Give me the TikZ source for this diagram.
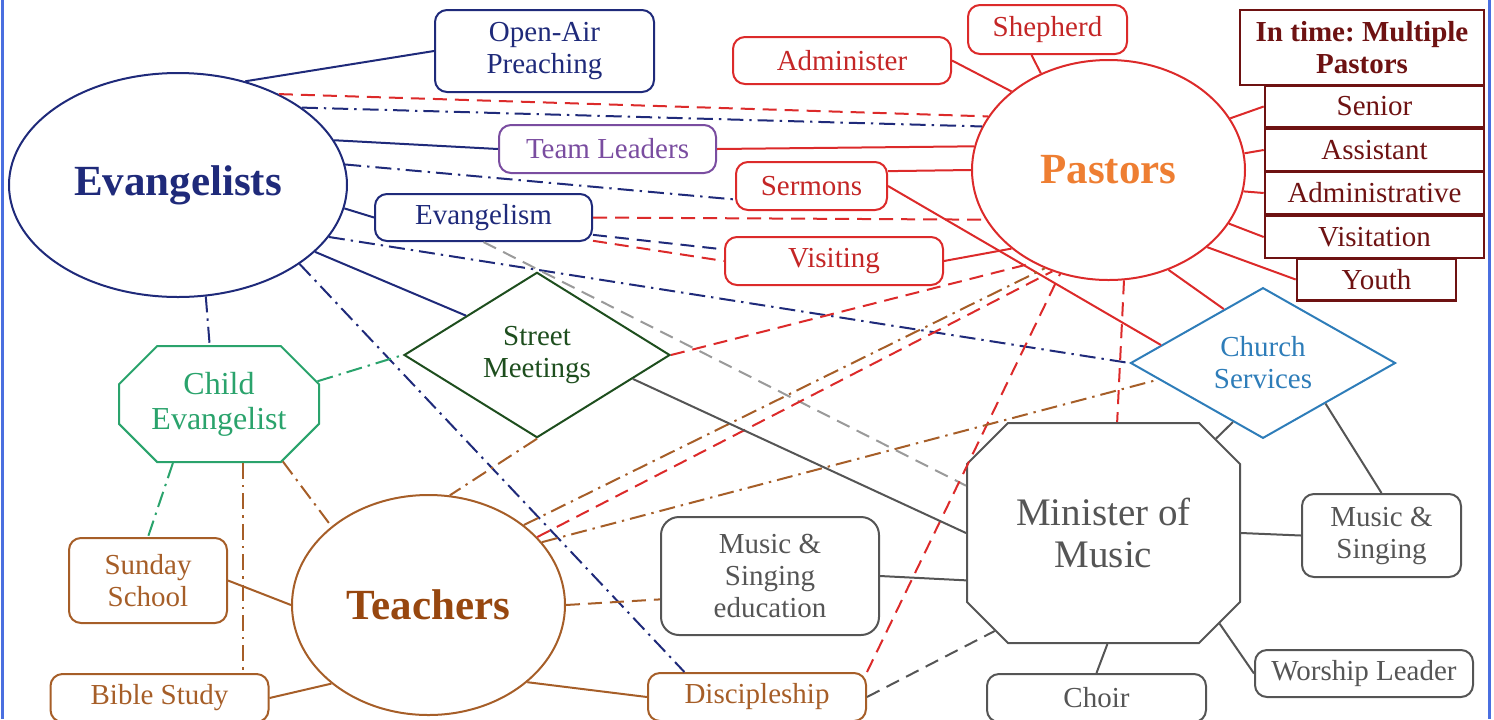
\documentclass[tikz,border=0pt]{standalone}
\usepackage{fontspec}
\setmainfont{Liberation Serif}
\usetikzlibrary{shapes.geometric,shapes.misc}
\frenchspacing

\definecolor{navy}{HTML}{1F2A7A}
\definecolor{rosso}{HTML}{DC2A2A}
\definecolor{rossotesto}{HTML}{C42626}
\definecolor{rossoscuro}{HTML}{6E1212}
\definecolor{arancio}{HTML}{EE7E32}
\definecolor{viola}{HTML}{7A4DA0}
\definecolor{verde}{HTML}{2AA36C}
\definecolor{verdescuro}{HTML}{1E4E1E}
\definecolor{azzurro}{HTML}{2E7DB9}
\definecolor{grigio}{HTML}{555555}
\definecolor{grigiochiaro}{HTML}{9A9A9A}
\definecolor{marrone}{HTML}{A65E28}
\definecolor{marronescuro}{HTML}{97470F}
\definecolor{cornice}{HTML}{4A6FE0}

\begin{document}
\begin{tikzpicture}[x=0.5pt, y=-0.5pt, line width=1pt,
    every node/.style={font=\fontsize{14.5}{16}\selectfont, align=center, inner sep=0pt},
    box/.style={draw, rounded corners=6pt},
    boxrosso/.style={box, draw=rosso, text=rossotesto},
    ruolo/.style={ellipse, draw, font=\fontsize{21.5}{24}\selectfont\bfseries},
    staff/.style={draw, rossoscuro, line width=1.3pt, minimum width=109.5pt, minimum height=21pt},
    tratt/.style={dash pattern=on 7pt off 4pt},
    puntotratt/.style={dash pattern=on 8pt off 3pt on 1.2pt off 3pt}]
  \useasboundingbox (0,0) rectangle (1494,719);

  % Ruoli principali
  \node (evang) at (178,185) [ruolo, navy, minimum width=169pt, minimum height=112pt] {Evangelists};
  \node (pastors) at (1108.5,170) [ruolo, draw=rosso, text=arancio, minimum width=136.5pt, minimum height=110pt] {Pastors};
  \node (teachers) at (428.5,605) [ruolo, draw=marrone, text=marronescuro, minimum width=136.5pt, minimum height=110pt] {Teachers};
  \node (minister) at (1103.5,533) [chamfered rectangle, chamfered rectangle xsep=33pt, draw=grigio, text=grigio, minimum width=136.5pt, minimum height=110pt, font=\fontsize{19.5}{21}\selectfont] {Minister of\\Music};

  % Evangelisti
  \node (openair) at (544.5,51) [box, navy, minimum width=109.5pt, minimum height=41pt] {Open-Air\\Preaching};
  \node (teamlead) at (607.5,149) [box, viola, minimum width=108.5pt, minimum height=24pt] {Team Leaders};
  \node (evangelism) at (483.5,217.5) [box, navy, minimum width=108.5pt, minimum height=23.5pt] {Evangelism};
  \node (street) at (537,355) [diamond, draw, verdescuro, minimum width=133pt, minimum height=75pt] {Street\\Meetings};
  \node (childev) at (219,404) [chamfered rectangle, chamfered rectangle xsep=17.5pt, draw, verde, minimum width=100pt, minimum height=58pt, font=\fontsize{16}{17.5}\selectfont] {Child\\Evangelist};

  % Pastori
  \node (administer) at (842,60.5) [boxrosso, minimum width=109pt, minimum height=23.5pt] {Administer};
  \node (shepherd) at (1047.5,29.5) [boxrosso, minimum width=79.5pt, minimum height=24.5pt] {Shepherd};
  \node (sermons) at (811.5,186) [boxrosso, minimum width=75.5pt, minimum height=24pt] {Sermons};
  \node (visiting) at (834,261) [boxrosso, minimum width=109pt, minimum height=24pt] {Visiting};
  \node (intime) at (1362,47.5) [draw, rossoscuro, line width=1.3pt, minimum width=122pt, minimum height=37.5pt, font=\fontsize{14.5}{16}\selectfont\bfseries] {In time: Multiple\\Pastors};
  \node (senior) at (1374.5,106.5) [staff] {Senior};
  \node (assistant) at (1374.5,150) [staff] {Assistant};
  \node (administrative) at (1374.5,193) [staff] {Administrative};
  \node (visitation) at (1374.5,237) [staff] {Visitation};
  \node (youth) at (1376.5,279.5) [staff, minimum width=79.5pt] {Youth};
  \node (church) at (1263,363) [diamond, draw, azzurro, minimum width=132.5pt, minimum height=75pt] {Church\\Services};

  % Musica
  \node (music) at (1381.5,535.5) [box, grigio, minimum width=79.5pt, minimum height=41.5pt] {Music \&\\Singing};
  \node (worship) at (1364,673.5) [box, grigio, minimum width=109pt, minimum height=23.5pt] {Worship Leader};
  \node (choir) at (1096.5,698) [box, grigio, minimum width=109.5pt, minimum height=24pt] {Choir};
  \node (musicedu) at (770,576) [box, grigio, rounded corners=9pt, minimum width=109pt, minimum height=59pt] {Music \&\\Singing\\education};

  % Insegnanti
  \node (disciple) at (757,697) [box, marrone, minimum width=109pt, minimum height=24pt] {Discipleship};
  \node (sunday) at (148,580.5) [box, marrone, minimum width=79pt, minimum height=42.5pt] {Sunday\\School};
  \node (bible) at (159.5,698) [box, marrone, minimum width=109pt, minimum height=24pt] {Bible Study};

  % Collegamenti evangelisti
  \draw[navy] (evang.57) -- (openair.west);
  \draw[rosso, tratt] (evang.42) -- (pastors.156);
  \draw[navy, puntotratt] (evang.32) -- (pastors.161);
  \draw[navy] (evang.16) -- (teamlead.west);
  \draw[navy, puntotratt] (evang.7) -- (sermons.190);
  \draw[navy] (evang.352) -- (evangelism.west);
  \draw[navy, puntotratt] (evang.341) -- (church.west);
  \draw[navy] (evang.334) -- (street.151);
  \draw[navy, puntotratt] (evang.327) -- (disciple.161);
  \draw[navy, puntotratt] (evang.284) -- (childev.99);
  \draw[rosso, tratt] (evangelism.east) -- (pastors.202);
  \draw[navy, tratt] (evangelism.351) -- (visiting.174);
  \draw[rosso, tratt] (evangelism.348) -- (visiting.west);
  \draw[grigiochiaro, tratt] (evangelism.south) -- (minister.161);

  % Collegamenti pastori
  \draw[rosso] (teamlead.east) -- (pastors.170);
  \draw[rosso] (sermons.11) -- (pastors.180);
  \draw[rosso] (sermons.east) -- (church.170);
  \draw[rosso] (visiting.east) -- (pastors.219);
  \draw[rosso] (administer.east) -- (pastors.141);
  \draw[rosso] (shepherd.238) -- (pastors.125);
  \draw[rosso] (pastors.23) -- (senior.west);
  \draw[rosso] (pastors.7) -- (assistant.west);
  \draw[rosso] (pastors.351) -- (administrative.west);
  \draw[rosso] (pastors.336) -- (visitation.west);
  \draw[rosso] (pastors.322) -- (youth.west);
  \draw[rosso] (pastors.301) -- (church.126);
  \draw[rosso, tratt] (pastors.278) -- (minister.83);
  \draw[rosso, tratt] (street.east) -- (pastors.231);
  \draw[rosso, tratt] (disciple.north east) -- (pastors.245);

  % Collegamenti insegnanti
  \draw[marrone, puntotratt] (teachers.40) -- (pastors.237);
  \draw[rosso, tratt] (teachers.32) -- (pastors.241);
  \draw[marrone, puntotratt] (teachers.29) -- (church.189);
  \draw[marrone, puntotratt] (street.south) -- (teachers.79);
  \draw[verde, puntotratt] (childev.13) -- (street.west);
  \draw[verde, puntotratt] (childev.232) -- (sunday.north);
  \draw[marrone, puntotratt] (childev.292) -- (childev.292 |- bible.north);
  \draw[marrone, puntotratt] (childev.318) -- (teachers.141);
  \draw[marrone] (sunday.east) -- (teachers.west);
  \draw[marrone] (bible.east) -- (teachers.219);
  \draw[marrone] (teachers.322) -- (disciple.west);
  \draw[marrone, tratt] (teachers.east) -- (musicedu.192);

  % Collegamenti musica
  \draw[grigio] (street.346) -- (minister.west);
  \draw[grigio, tratt] (disciple.east) -- (minister.222);
  \draw[grigio] (musicedu.east) -- (minister.199);
  \draw[grigio] (minister.40) -- (church.243);
  \draw[grigio] (church.327) -- (music.north);
  \draw[grigio] (minister.east) -- (music.west);
  \draw[grigio] (minister.322) -- (worship.west);
  \draw[grigio] (minister.272) -- (choir.north);

  % Cornice
  \draw[cornice, line width=1.5pt] (2,0) -- (2,719);
  \draw[cornice, line width=1.5pt] (1489,0) -- (1489,719);
\end{tikzpicture}
\end{document}
